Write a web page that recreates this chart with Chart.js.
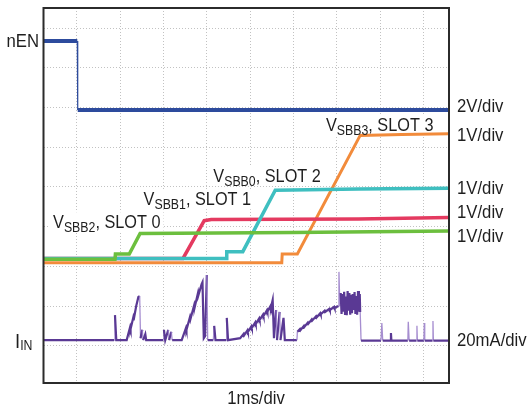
<!DOCTYPE html>
<html>
<head>
<meta charset="utf-8">
<script src="https://cdn.jsdelivr.net/npm/chart.js@4.4.1/dist/chart.umd.min.js"></script>
<style>
  html, body { margin: 0; padding: 0; background: #fff; }
  #wrap { position: relative; width: 529px; height: 415px; }
</style>
</head>
<body>
<div id="wrap"><canvas id="scope" width="529" height="415"></canvas></div>
<script>
// x in ms (1 div = 1 ms), 0 at the nEN falling edge; y in screen divisions
const xTicks = [0, 1, 2, 3, 4, 5, 6, 7, 8];
const yTicks = [0, 1, 2, 3, 4, 5, 6, 7, 8];
const xRange = [-0.77, 8.59];
const yRange = [-0.94, 8.51];

const nEN = [[-0.77, 7.68], [0.01, 7.68], [0.02, 5.94], [8.59, 5.94]];
const vSBB3 = [[-0.77, 2.09], [4.73, 2.09], [4.74, 2.31], [5.09, 2.31], [6.54, 5.30], [7.5, 5.32], [8.59, 5.34]];
const vSBB0 = [[-0.77, 2.20], [3.45, 2.20], [3.46, 2.37], [3.83, 2.37], [4.58, 3.92], [6.5, 3.95], [8.59, 3.97]];
const vSBB1 = [[-0.77, 2.20], [2.45, 2.20], [2.94, 3.15], [3.1, 3.18], [6.5, 3.19], [8.59, 3.23]];
const vSBB2 = [[-0.77, 2.18], [0.88, 2.18], [0.89, 2.31], [1.21, 2.31], [1.46, 2.83], [5.0, 2.85], [8.59, 2.89]];
const iIn = [
  [-0.77, 0.14], [0.86, 0.14], [0.88, 0.77], [0.91, 0.14],
  [1.15, 0.14], [1.23, 0.47], [1.24, 0.42], [1.30, 0.70], [1.31, 0.64], [1.37, 1.00], [1.42, 1.23], [1.45, 1.25],
  [1.47, 0.19], [1.51, 0.40], [1.53, 0.14], [1.58, 0.29], [1.60, 0.14],
  [1.99, 0.14], [2.01, 0.40], [2.04, 0.14], [2.11, 0.40], [2.13, 0.14], [2.18, 0.35], [2.20, 0.14],
  [2.42, 0.14], [2.52, 0.45], [2.53, 0.40], [2.61, 0.72], [2.62, 0.66], [2.71, 1.03], [2.72, 0.97],
  [2.80, 1.35], [2.81, 1.29], [2.88, 1.55], [2.90, 1.60], [2.93, 0.19], [2.96, 0.24], [3.00, 1.78], [3.02, 0.14],
  [3.15, 0.14], [3.17, 0.50], [3.20, 0.14],
  [3.45, 0.14], [3.46, 0.70], [3.49, 0.14],
  [3.77, 0.19], [3.85, 0.30], [3.86, 0.26], [3.94, 0.39], [3.95, 0.35], [4.03, 0.49], [4.04, 0.45],
  [4.12, 0.59], [4.13, 0.55], [4.21, 0.69], [4.22, 0.65], [4.30, 0.79], [4.31, 0.75], [4.39, 0.90],
  [4.40, 0.86], [4.47, 1.00], [4.48, 0.96], [4.52, 1.15],
  [4.55, 0.19], [4.60, 0.90], [4.62, 0.14], [4.68, 0.85], [4.70, 0.14], [4.77, 0.70], [4.80, 0.14],
  [5.08, 0.14], [5.09, 0.35], [5.15, 0.42], [5.16, 0.39], [5.24, 0.50], [5.25, 0.47], [5.33, 0.58],
  [5.34, 0.55], [5.42, 0.66], [5.43, 0.63], [5.52, 0.74], [5.53, 0.71], [5.62, 0.82], [5.63, 0.79],
  [5.72, 0.88], [5.73, 0.85], [5.83, 0.93], [5.84, 0.90], [5.94, 0.98], [5.95, 0.95], [6.04, 1.00],
  [6.05, 1.86], [6.07, 1.00],
  [6.09, 1.33], [6.11, 0.80], [6.13, 1.30], [6.15, 0.86], [6.17, 1.36], [6.19, 0.80], [6.21, 1.24],
  [6.23, 0.77], [6.25, 1.38], [6.27, 0.88], [6.29, 1.33], [6.31, 0.78], [6.33, 1.28], [6.35, 0.82],
  [6.37, 1.30], [6.39, 0.90], [6.41, 1.35], [6.43, 0.80], [6.45, 1.25], [6.47, 0.78], [6.49, 1.38],
  [6.51, 0.86], [6.53, 1.30], [6.54, 0.85], [6.56, 0.13],
  [7.02, 0.13], [7.04, 0.57], [7.06, 0.13], [7.24, 0.13], [7.25, 0.32], [7.26, 0.13],
  [7.64, 0.13], [7.65, 0.60], [7.67, 0.13], [7.84, 0.13], [7.85, 0.50], [7.86, 0.13],
  [8.01, 0.13], [8.02, 0.57], [8.03, 0.13], [8.21, 0.13], [8.22, 0.62], [8.23, 0.13], [8.59, 0.13]
];
const bandStart = 6.08;
const bandEnd = 6.54;

// trace labels inside the screen: [main, subscript, rest, x, y]
const traceLabels = [
  ['V', 'SBB3', ', SLOT 3', 5.75, 5.41],
  ['V', 'SBB0', ', SLOT 2', 3.15, 4.13],
  ['V', 'SBB1', ', SLOT 1', 1.54, 3.54],
  ['V', 'SBB2', ', SLOT 0', -0.55, 2.96]
];
// scale labels on the right side: [text, y pixel]
const scaleLabels = [['2V/div', 107], ['1V/div', 136], ['1V/div', 189], ['1V/div', 213], ['1V/div', 237], ['20mA/div', 341]];

const FONT = '"Liberation Sans", Arial, sans-serif';
const SQUEEZE = 0.88;
const MAIN = 19;
const LAB = 18.5;
const SUB = 14;

function pts(arr) {
  return arr.map(p => ({ x: p[0], y: p[1] }));
}

function textW(ctx, str, size) {
  ctx.font = size + 'px ' + FONT;
  return ctx.measureText(str).width * SQUEEZE;
}

function putText(ctx, str, x, y, size, align, base) {
  ctx.save();
  ctx.translate(x, y);
  ctx.scale(SQUEEZE, 1);
  ctx.font = size + 'px ' + FONT;
  ctx.textAlign = align || 'left';
  ctx.textBaseline = base || 'alphabetic';
  ctx.fillStyle = '#1e1e1e';
  ctx.fillText(str, 0, 0);
  ctx.restore();
}

const scopeText = {
  id: 'scopeText',
  beforeDatasetsDraw(chart) {
    const ctx = chart.ctx;
    const xs = chart.scales.x, ys = chart.scales.y;
    ctx.save();
    ctx.fillStyle = '#ffffff';
    traceLabels.forEach(lab => {
      const x = xs.getPixelForValue(lab[3]);
      const y = ys.getPixelForValue(lab[4]);
      const w = textW(ctx, lab[0], LAB) + textW(ctx, lab[1], SUB) + textW(ctx, lab[2], LAB);
      ctx.fillRect(x - 3, y - 16, w + 6, 20);
    });
    ctx.restore();
  },
  afterDatasetsDraw(chart) {
    const ctx = chart.ctx;
    const xs = chart.scales.x, ys = chart.scales.y;
    const area = chart.chartArea;
    traceLabels.forEach(lab => {
      let x = xs.getPixelForValue(lab[3]);
      const y = ys.getPixelForValue(lab[4]);
      putText(ctx, lab[0], x, y, LAB);
      x += textW(ctx, lab[0], LAB);
      putText(ctx, lab[1], x, y + 4, SUB);
      x += textW(ctx, lab[1], SUB);
      putText(ctx, lab[2], x, y, LAB);
    });
    scaleLabels.forEach(s => putText(ctx, s[0], area.right + 8, s[1], MAIN, 'left', 'middle'));
    putText(ctx, 'nEN', 39, 42, MAIN, 'right', 'middle');
    putText(ctx, 'I', 15, 348, 21);
    putText(ctx, 'IN', 15 + textW(ctx, 'I', 21), 350, SUB);
    putText(ctx, '1ms/div', 256, 399, MAIN, 'center', 'middle');

    ctx.save();
    ctx.strokeStyle = '#2b2b2b';
    ctx.lineWidth = 2;
    ctx.strokeRect(area.left, area.top, area.right - area.left, area.bottom - area.top);
    ctx.restore();
  }
};

function isEdge(c) {
  return Math.abs(c.p1.parsed.x - c.p0.parsed.x) < 0.03 && Math.abs(c.p1.parsed.y - c.p0.parsed.y) > 0.2;
}

function trace(label, data, color, width, order) {
  return {
    label: label,
    data: pts(data),
    borderColor: color,
    borderWidth: width,
    pointRadius: 0,
    tension: 0,
    fill: false,
    order: order
  };
}

const enTrace = trace('nEN', nEN, '#2d4b9d', 4, 5);
enTrace.segment = { borderWidth: c => isEdge(c) ? 1.2 : undefined };

const iTrace = trace('IIN', iIn, '#5a3994', 2.2, 6);
iTrace.segment = {
  borderColor: c => {
    const inBand = c.p0.parsed.x >= bandStart && c.p1.parsed.x <= bandEnd;
    return isEdge(c) && !inBand ? 'rgba(150, 122, 200, 0.85)' : undefined;
  },
  borderWidth: c => {
    const inBand = c.p0.parsed.x >= bandStart && c.p1.parsed.x <= bandEnd;
    return isEdge(c) && !inBand ? 1.3 : undefined;
  }
};

const gridOpts = {
  color: '#c2c2c2',
  lineWidth: 1,
  drawTicks: false
};

new Chart(document.getElementById('scope'), {
  type: 'line',
  data: {
    datasets: [
      trace('VSBB2', vSBB2, '#6cbf3e', 3.5, 1),
      trace('VSBB0', vSBB0, '#3fbfc0', 3.5, 2),
      trace('VSBB1', vSBB1, '#e43a60', 3.5, 3),
      trace('VSBB3', vSBB3, '#f28b3b', 3, 4),
      enTrace,
      iTrace
    ]
  },
  options: {
    responsive: false,
    animation: false,
    events: [],
    layout: { padding: { left: 43.5, right: 80, top: 8, bottom: 32 } },
    plugins: { legend: { display: false }, tooltip: { enabled: false } },
    scales: {
      x: {
        type: 'linear',
        min: xRange[0],
        max: xRange[1],
        afterBuildTicks: axis => { axis.ticks = xTicks.map(v => ({ value: v })); },
        ticks: { display: false },
        border: { display: false, dash: [1, 2] },
        grid: gridOpts
      },
      y: {
        type: 'linear',
        min: yRange[0],
        max: yRange[1],
        afterBuildTicks: axis => { axis.ticks = yTicks.map(v => ({ value: v })); },
        ticks: { display: false },
        border: { display: false, dash: [1, 2] },
        grid: gridOpts
      }
    }
  },
  plugins: [scopeText]
});
</script>
</body>
</html>
